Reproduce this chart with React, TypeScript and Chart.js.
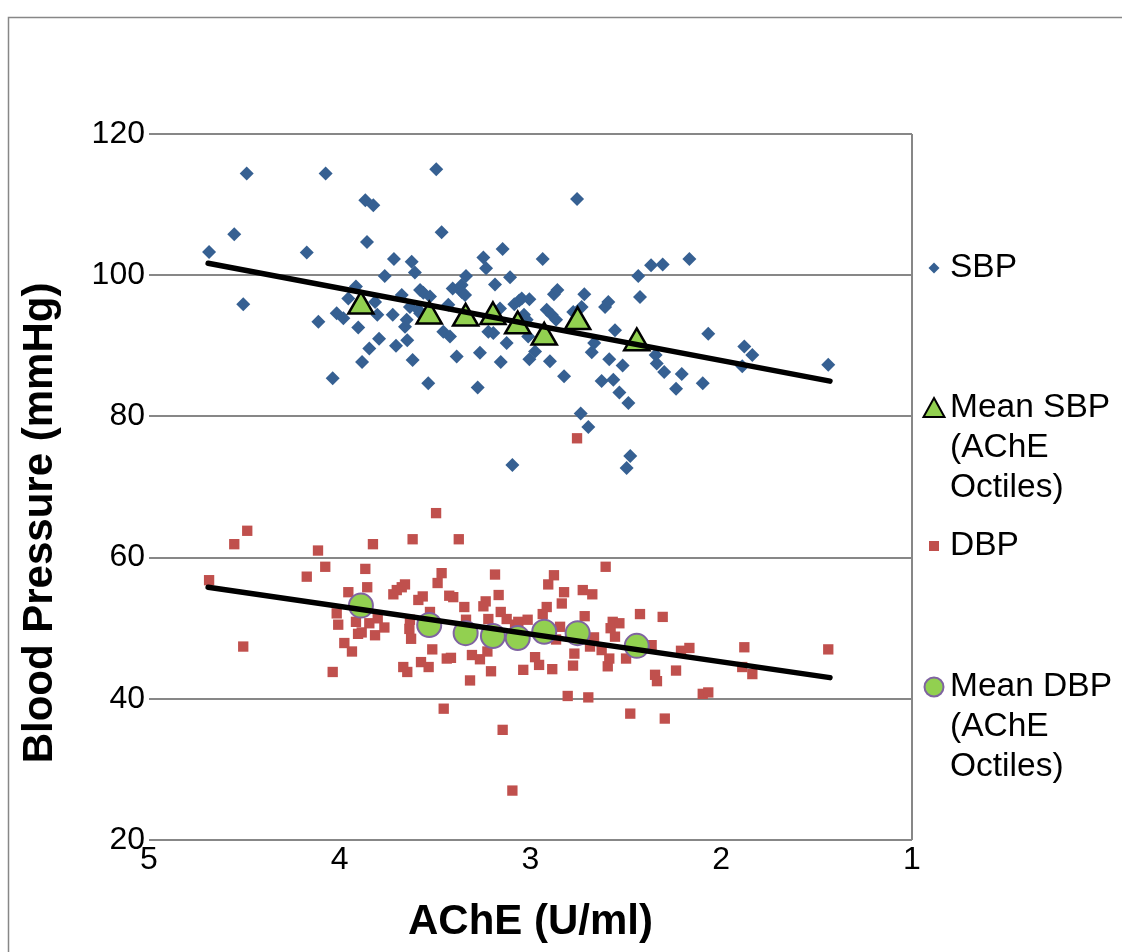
import React, { useEffect, useRef } from 'react';
import { Chart, registerables } from 'chart.js';

Chart.register(...registerables);

// ---- Data ----
const sbpAChE = [
  4.685, 4.553, 4.506, 4.488, 4.173, 4.112, 4.074, 4.037, 4.016, 3.981,
  3.955, 3.915, 3.903, 3.883, 3.866, 3.857, 3.845, 3.824, 3.815, 3.803,
  3.794, 3.764, 3.722, 3.716, 3.705, 3.675, 3.658, 3.649, 3.646, 3.632,
  3.623, 3.618, 3.606, 3.588, 3.579, 3.562, 3.536, 3.527, 3.494, 3.466,
  3.457, 3.431, 3.422, 3.408, 3.387, 3.361, 3.359, 3.338, 3.277, 3.265,
  3.247, 3.233, 3.221, 3.195, 3.186, 3.160, 3.156, 3.146, 3.125, 3.107,
  3.095, 3.085, 3.059, 3.046, 3.034, 3.020, 3.012, 3.006, 3.006, 2.976,
  2.936, 2.915, 2.898, 2.889, 2.877, 2.866, 2.859, 2.824, 2.776, 2.756,
  2.737, 2.697, 2.732, 2.718, 2.679, 2.666, 2.627, 2.609, 2.592, 2.587,
  2.566, 2.557, 2.534, 2.517, 2.496, 2.487, 2.477, 2.435, 2.426, 2.368,
  2.344, 2.338, 2.307, 2.299, 2.237, 2.207, 2.167, 2.097, 2.068, 1.890,
  1.879, 1.837, 1.439, 3.579, 3.343,
];
const sbpValues = [
  103.3, 105.8, 95.9, 114.4, 103.2, 93.4, 114.4, 85.4, 94.6, 93.9,
  96.7, 98.4, 92.6, 87.7, 110.6, 104.7, 89.6, 109.9, 96.2, 94.4,
  91.0, 99.9, 94.4, 102.3, 90.0, 97.2, 92.7, 93.7, 90.8, 95.5,
  101.9, 88.0, 100.4, 95.1, 97.9, 97.5, 84.7, 97.0, 115.0, 106.1,
  92.0, 95.8, 91.3, 98.1, 88.5, 98.6, 97.6, 99.9, 84.1, 89.0,
  102.5, 101.0, 92.0, 91.8, 98.7, 95.3, 87.7, 103.7, 90.4, 99.7,
  73.1, 95.9, 96.4, 96.7, 94.4, 93.7, 91.3, 96.6, 88.1, 89.2,
  102.3, 95.1, 87.8, 94.4, 97.3, 93.7, 97.9, 85.7, 94.8, 110.8,
  80.4, 78.5, 95.5, 97.3, 89.1, 90.4, 85.0, 95.5, 96.2, 88.1,
  85.2, 92.2, 83.4, 87.2, 72.7, 81.9, 74.4, 99.9, 96.9, 101.4,
  88.7, 87.5, 101.5, 86.3, 83.9, 86.0, 102.3, 84.7, 91.7, 87.1,
  89.9, 88.7, 87.3, 94.6, 97.2,
];

const dbpAChE = [
  4.685, 4.553, 4.506, 4.485, 4.173, 4.114, 4.076, 4.037, 4.016, 4.008,
  3.976, 3.955, 3.936, 3.915, 3.904, 3.885, 3.866, 3.856, 3.845, 3.826,
  3.815, 3.801, 3.766, 3.719, 3.701, 3.675, 3.658, 3.667, 3.646, 3.635,
  3.632, 3.626, 3.618, 3.588, 3.574, 3.565, 3.534, 3.527, 3.515, 3.495,
  3.487, 3.466, 3.455, 3.439, 3.426, 3.417, 3.405, 3.376, 3.347, 3.338,
  3.317, 3.307, 3.265, 3.247, 3.235, 3.226, 3.221, 3.207, 3.186, 3.167,
  3.156, 3.146, 3.125, 3.095, 3.081, 3.064, 3.038, 3.015, 2.976, 2.955,
  2.936, 2.915, 2.907, 2.886, 2.877, 2.866, 2.845, 2.836, 2.824, 2.805,
  2.777, 2.770, 2.756, 2.726, 2.716, 2.697, 2.688, 2.676, 2.667, 2.627,
  2.606, 2.595, 2.587, 2.580, 2.569, 2.557, 2.534, 2.499, 2.477, 2.426,
  2.365, 2.347, 2.337, 2.307, 2.296, 2.237, 2.211, 2.167, 2.097, 2.068,
  1.890, 1.879, 1.837, 1.439,
];
const dbpValues = [
  56.8, 61.9, 47.4, 63.8, 57.3, 61.0, 58.7, 43.8, 52.1, 50.5,
  47.9, 55.1, 46.7, 50.9, 49.2, 49.4, 58.4, 55.8, 50.7, 61.9,
  49.0, 51.4, 50.1, 54.8, 55.4, 55.8, 56.2, 44.5, 43.8, 49.9,
  51.2, 48.5, 62.6, 54.0, 45.2, 54.5, 44.5, 52.3, 47.0, 66.3,
  56.4, 57.8, 38.6, 45.7, 54.6, 45.8, 54.4, 62.6, 53.0, 51.2,
  42.6, 46.2, 45.6, 53.1, 53.8, 46.7, 51.3, 43.9, 57.6, 54.7,
  52.3, 35.6, 51.3, 27.0, 50.5, 50.9, 44.1, 51.2, 45.9, 44.8,
  52.0, 53.0, 56.2, 44.2, 57.5, 48.4, 50.2, 53.5, 55.1, 40.4,
  44.7, 46.4, 76.9, 55.4, 51.7, 40.2, 47.4, 54.8, 48.7, 46.9,
  58.7, 44.6, 45.7, 50.0, 50.9, 48.8, 50.7, 45.7, 37.9, 52.0,
  47.6, 43.4, 42.5, 51.6, 37.2, 44.0, 46.8, 47.2, 40.7, 40.9,
  44.5, 47.3, 43.5, 47.0,
];

const octileAChE = [3.889, 3.531, 3.340, 3.197, 3.067, 2.928, 2.753, 2.443];
const meanSBP = [95.6, 94.2, 93.9, 94.1, 92.8, 91.2, 93.4, 90.4];
const meanDBP = [53.2, 50.45, 49.3, 48.9, 48.6, 49.5, 49.3, 47.5];

const trendAChE = [4.69, 1.43];
const sbpTrend = [101.7, 85.0];
const dbpTrend = [55.8, 43.0];

const xTickValues = [5, 4, 3, 2, 1];
const yTickValues = [20, 40, 60, 80, 100, 120];

const xTitle = 'AChE (U/ml)';
const yTitle = 'Blood Pressure (mmHg)';
const legendSBP = ['SBP'];
const legendMeanSBP = ['Mean SBP', '(AChE', 'Octiles)'];
const legendDBP = ['DBP'];
const legendMeanDBP = ['Mean DBP', '(AChE', 'Octiles)'];

// ---- Styles ----
const FONT = '"Liberation Sans", Arial, Helvetica, sans-serif';
const BLUE = '#366092';
const RED = '#C0504D';
const GREEN = '#92D050';
const PURPLE = '#7F63A1';
const GRID = '#878787';

const pts = (xs: number[], ys: number[]) => xs.map((x, i) => ({ x, y: ys[i] }));

const decorPlugin = {
  id: 'decor',
  beforeDraw(chart: any) {
    const ctx = chart.ctx as CanvasRenderingContext2D;
    ctx.save();
    ctx.fillStyle = '#ffffff';
    ctx.fillRect(0, 0, chart.width, chart.height);
    ctx.strokeStyle = GRID;
    ctx.lineWidth = 1.5;
    ctx.strokeRect(8.5, 17.5, chart.width + 40, chart.height + 40);
    ctx.restore();
  },
  afterDraw(chart: any) {
    const ctx = chart.ctx as CanvasRenderingContext2D;
    // Y axis title
    ctx.save();
    ctx.translate(40, 523);
    ctx.rotate(-Math.PI / 2);
    ctx.font = `bold 42px ${FONT}`;
    ctx.fillStyle = '#000';
    ctx.textAlign = 'center';
    ctx.textBaseline = 'middle';
    ctx.fillText(yTitle, 0, 0);
    ctx.restore();

    // Legend
    const mx = 934;
    const tx = 950;
    const lh = 40;
    ctx.save();
    ctx.font = `33.5px ${FONT}`;
    ctx.fillStyle = '#000';
    ctx.textAlign = 'left';
    ctx.textBaseline = 'middle';
    const drawLines = (lines: string[], y0: number) => {
      lines.forEach((t, i) => ctx.fillText(t, tx, y0 + i * lh));
    };

    // SBP diamond
    let y = 268;
    ctx.fillStyle = BLUE;
    ctx.beginPath();
    ctx.moveTo(mx - 5.5, y);
    ctx.lineTo(mx, y - 5.5);
    ctx.lineTo(mx + 5.5, y);
    ctx.lineTo(mx, y + 5.5);
    ctx.closePath();
    ctx.fill();
    ctx.fillStyle = '#000';
    drawLines(legendSBP, y);

    // Mean SBP triangle
    y = 408;
    ctx.beginPath();
    ctx.moveTo(mx, y - 10);
    ctx.lineTo(mx + 10.5, y + 9);
    ctx.lineTo(mx - 10.5, y + 9);
    ctx.closePath();
    ctx.fillStyle = GREEN;
    ctx.fill();
    ctx.lineWidth = 2;
    ctx.strokeStyle = '#000';
    ctx.stroke();
    ctx.fillStyle = '#000';
    drawLines(legendMeanSBP, y);

    // DBP square
    y = 546;
    ctx.fillStyle = RED;
    ctx.fillRect(mx - 5, y - 5, 10, 10);
    ctx.fillStyle = '#000';
    drawLines(legendDBP, y);

    // Mean DBP circle
    y = 687;
    ctx.beginPath();
    ctx.arc(mx, y, 9.5, 0, Math.PI * 2);
    ctx.fillStyle = GREEN;
    ctx.fill();
    ctx.lineWidth = 2;
    ctx.strokeStyle = PURPLE;
    ctx.stroke();
    ctx.fillStyle = '#000';
    drawLines(legendMeanDBP, y);
    ctx.restore();
  },
};

export default function App() {
  const ref = useRef<HTMLCanvasElement | null>(null);

  useEffect(() => {
    const canvas = ref.current;
    if (!canvas) return;
    const chart = new Chart(canvas, {
      type: 'scatter',
      data: {
        datasets: [
          {
            label: 'SBP trend',
            data: pts(trendAChE, sbpTrend),
            showLine: true,
            borderColor: '#000',
            borderWidth: 5.5,
            borderCapStyle: 'round',
            pointRadius: 0,
            order: 0,
          },
          {
            label: 'DBP trend',
            data: pts(trendAChE, dbpTrend),
            showLine: true,
            borderColor: '#000',
            borderWidth: 5.5,
            borderCapStyle: 'round',
            pointRadius: 0,
            order: 0,
          },
          {
            label: 'Mean SBP (AChE Octiles)',
            data: pts(octileAChE, meanSBP),
            pointStyle: 'triangle',
            pointRadius: 14.5,
            backgroundColor: GREEN,
            borderColor: '#000',
            borderWidth: 2.5,
            order: 1,
          },
          {
            label: 'Mean DBP (AChE Octiles)',
            data: pts(octileAChE, meanDBP),
            pointStyle: 'circle',
            pointRadius: 12,
            backgroundColor: GREEN,
            borderColor: PURPLE,
            borderWidth: 2,
            order: 1,
          },
          {
            label: 'SBP',
            data: pts(sbpAChE, sbpValues),
            pointStyle: 'rectRot',
            pointRadius: 7,
            backgroundColor: BLUE,
            borderColor: BLUE,
            borderWidth: 0,
            order: 2,
          },
          {
            label: 'DBP',
            data: pts(dbpAChE, dbpValues),
            pointStyle: 'rect',
            pointRadius: 7.3,
            backgroundColor: RED,
            borderColor: RED,
            borderWidth: 0,
            order: 2,
          },
        ],
      } as any,
      options: {
        responsive: false,
        animation: false,
        devicePixelRatio: 1,
        events: [],
        layout: { padding: { top: 134, right: 210, left: 0, bottom: 0 } },
        plugins: {
          legend: { display: false },
          tooltip: { enabled: false },
          title: { display: false },
        },
        scales: {
          x: {
            type: 'linear',
            min: 1,
            max: 5,
            reverse: true,
            afterBuildTicks: (s: any) => {
              s.ticks = xTickValues.map((v) => ({ value: v }));
            },
            afterFit: (s: any) => {
              s.height = 112;
            },
            ticks: {
              color: '#000',
              font: { family: FONT, size: 32 },
              padding: 1,
              autoSkip: false,
              maxRotation: 0,
              minRotation: 0,
            },
            grid: {
              color: (c: any) => (c.tick && c.tick.value === 1 ? GRID : 'rgba(0,0,0,0)'),
              lineWidth: 2,
              drawTicks: false,
            },
            border: { display: false },
            title: {
              display: true,
              text: xTitle,
              color: '#000',
              font: { family: FONT, size: 42, weight: 'bold' },
              padding: { top: 0, bottom: 4 },
            },
          },
          y: {
            type: 'linear',
            min: 20,
            max: 120,
            afterBuildTicks: (s: any) => {
              s.ticks = yTickValues.map((v) => ({ value: v }));
            },
            afterFit: (s: any) => {
              s.width = 149;
            },
            ticks: {
              color: '#000',
              font: { family: FONT, size: 32 },
              padding: 4,
            },
            grid: {
              color: GRID,
              lineWidth: 2,
              drawTicks: false,
            },
            border: { display: false },
            title: { display: false },
          },
        },
      } as any,
      plugins: [decorPlugin],
    });
    return () => chart.destroy();
  }, []);

  return (
    <div style={{ position: 'absolute', left: 0, top: 0, width: 1122, height: 952, background: '#fff' }}>
      <canvas ref={ref} width={1122} height={952} style={{ display: 'block', width: 1122, height: 952 }} />
    </div>
  );
}
